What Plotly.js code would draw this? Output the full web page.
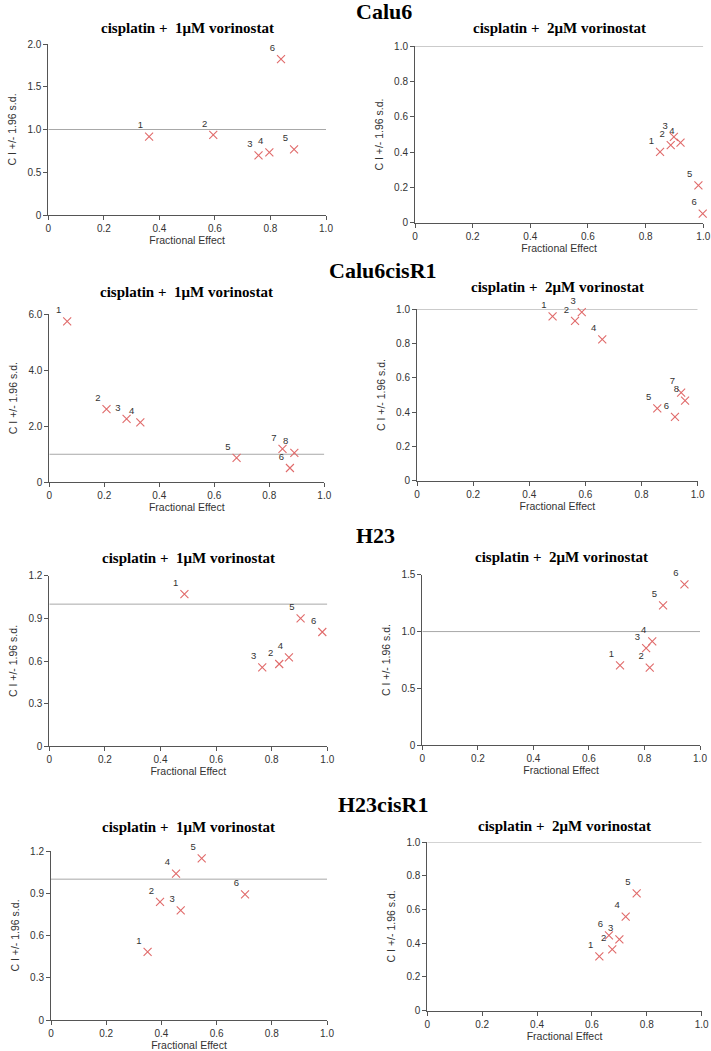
<!DOCTYPE html>
<html>
<head>
<meta charset="utf-8">
<script src="https://cdn.plot.ly/plotly-3.0.1.min.js"></script>
<style>html,body{margin:0;padding:0;background:#fff;}#chart{width:711px;height:1051px;}</style>
</head>
<body>
<div id="chart"></div>
<script>
// ---------------- DATA ----------------
const cellLines = ["Calu6", "Calu6cisR1", "H23", "H23cisR1"];
const subTitles = ["cisplatin +\u00a0 1\u03bcM vorinostat", "cisplatin +\u00a0 2\u03bcM vorinostat"];

const calu6_1uM_fe = [0.363, 0.594, 0.757, 0.796, 0.885, 0.838];
const calu6_1uM_ci = [0.916, 0.936, 0.698, 0.733, 0.768, 1.824];
const calu6_2uM_fe = [0.850, 0.887, 0.898, 0.921, 0.983, 0.998];
const calu6_2uM_ci = [0.401, 0.440, 0.486, 0.454, 0.212, 0.051];

const calu6cisR1_1uM_fe = [0.065, 0.208, 0.281, 0.331, 0.681, 0.875, 0.848, 0.891];
const calu6cisR1_1uM_ci = [5.74, 2.61, 2.26, 2.14, 0.87, 0.51, 1.19, 1.05];
const calu6cisR1_2uM_fe = [0.483, 0.563, 0.587, 0.660, 0.856, 0.919, 0.941, 0.955];
const calu6cisR1_2uM_ci = [0.959, 0.932, 0.984, 0.825, 0.422, 0.372, 0.514, 0.467];

const h23_1uM_fe = [0.486, 0.827, 0.766, 0.862, 0.904, 0.982];
const h23_1uM_ci = [1.071, 0.579, 0.555, 0.626, 0.900, 0.804];
const h23_2uM_fe = [0.712, 0.819, 0.806, 0.828, 0.867, 0.944];
const h23_2uM_ci = [0.703, 0.683, 0.855, 0.914, 1.230, 1.415];

const h23cisR1_1uM_fe = [0.350, 0.395, 0.470, 0.453, 0.546, 0.703];
const h23cisR1_1uM_ci = [0.483, 0.838, 0.779, 1.039, 1.148, 0.892];
const h23cisR1_2uM_fe = [0.627, 0.674, 0.700, 0.723, 0.763, 0.662];
const h23cisR1_2uM_ci = [0.322, 0.364, 0.423, 0.557, 0.696, 0.447];

const xTickVals = [0, 0.2, 0.4, 0.6, 0.8, 1.0];
const xTickText = ["0", "0.2", "0.4", "0.6", "0.8", "1.0"];
const yTicks_calu6_1 = ["0", "0.5", "1.0", "1.5", "2.0"];
const yTicks_cisR1_1 = ["0", "2.0", "4.0", "6.0"];
const yTicks_h23_1 = ["0", "0.3", "0.6", "0.9", "1.2"];
const yTicks_h23_2 = ["0", "0.5", "1.0", "1.5"];
const yTicks_unit = ["0", "0.2", "0.4", "0.6", "0.8", "1.0"];
const refCI = 1.0;

const xTitle = "Fractional Effect";
const yTitle = "C I +/- 1.96 s.d.";

// ---------------- PANELS ----------------
const panels = [
  {fe: calu6_1uM_fe, ci: calu6_1uM_ci, yt: yTicks_calu6_1},
  {fe: calu6_2uM_fe, ci: calu6_2uM_ci, yt: yTicks_unit},
  {fe: calu6cisR1_1uM_fe, ci: calu6cisR1_1uM_ci, yt: yTicks_cisR1_1},
  {fe: calu6cisR1_2uM_fe, ci: calu6cisR1_2uM_ci, yt: yTicks_unit},
  {fe: h23_1uM_fe, ci: h23_1uM_ci, yt: yTicks_h23_1},
  {fe: h23_2uM_fe, ci: h23_2uM_ci, yt: yTicks_h23_2},
  {fe: h23cisR1_1uM_fe, ci: h23cisR1_1uM_ci, yt: yTicks_h23_1},
  {fe: h23cisR1_2uM_fe, ci: h23cisR1_2uM_ci, yt: yTicks_unit}
];

// pixel boxes of plot areas [left, right, top, bottom]
const boxes = [
  [48.3, 326, 44, 215],
  [415, 703.3, 46.3, 222.7],
  [49.3, 324.3, 314, 482.3],
  [417, 697.7, 309.3, 480.7],
  [49.3, 327.3, 575.7, 746.3],
  [422.3, 700, 574.7, 745.3],
  [51, 327, 851, 1020],
  [427.3, 701.7, 842, 1010.7]
];
const subTitleY = [28, 28, 292, 287, 558, 557, 827, 826];
const bigTitlePos = [[384, 12], [383, 270], [375, 535], [383, 805]];

const W = 711, H = 1051;
const px = v => v / W;
const py = v => 1 - v / H;

const tickFont = {family: "Liberation Sans, Arial, sans-serif", size: 10, color: "#333"};
const axTitleFont = {family: "Liberation Sans, Arial, sans-serif", size: 10.5, color: "#333"};
const markerColor = "#e06a6a";

const data = [];
const layout = {
  width: W, height: H,
  margin: {l: 0, r: 0, t: 0, b: 0},
  paper_bgcolor: "#fff", plot_bgcolor: "#fff",
  showlegend: false,
  shapes: [], annotations: []
};

panels.forEach((p, i) => {
  const n = i + 1;
  const xa = n === 1 ? "xaxis" : "xaxis" + n;
  const ya = n === 1 ? "yaxis" : "yaxis" + n;
  const xr = n === 1 ? "x" : "x" + n;
  const yr = n === 1 ? "y" : "y" + n;
  const b = boxes[i];
  const yVals = p.yt.map(Number);
  const yMax = yVals[yVals.length - 1];

  data.push({
    type: "scatter", mode: "markers+text",
    x: p.fe, y: p.ci,
    text: p.fe.map((_, k) => String(k + 1)),
    textposition: "top left",
    textfont: {family: "Liberation Sans, Arial, sans-serif", size: 9.5, color: "#333"},
    marker: {symbol: "x-thin-open", size: 8, color: markerColor, line: {color: markerColor, width: 1.1}},
    cliponaxis: false,
    xaxis: xr, yaxis: yr, hoverinfo: "skip"
  });

  layout[xa] = {
    domain: [px(b[0]), px(b[1])], anchor: yr, range: [0, 1],
    tickvals: xTickVals, ticktext: xTickText,
    showgrid: false, zeroline: false, showline: true, linecolor: "#555", linewidth: 1,
    ticks: "outside", ticklen: 4, tickcolor: "#555", tickfont: tickFont,
    title: {text: xTitle, font: axTitleFont, standoff: 3},
    automargin: false, fixedrange: true
  };
  layout[ya] = {
    domain: [py(b[3]), py(b[2])], anchor: xr, range: [0, yMax],
    tickvals: yVals, ticktext: p.yt,
    showgrid: false, zeroline: false, showline: true, linecolor: "#555", linewidth: 1,
    ticks: "outside", ticklen: 4, tickcolor: "#555", tickfont: tickFont,
    title: {text: yTitle, font: axTitleFont, standoff: 8},
    automargin: false, fixedrange: true
  };

  layout.shapes.push({
    type: "line", xref: xr, yref: yr, x0: 0, x1: 1, y0: refCI, y1: refCI,
    line: {color: "#a8a8a8", width: 1}, layer: "below"
  });

  layout.annotations.push({
    xref: "paper", yref: "paper", x: px((b[0] + b[1]) / 2), y: py(subTitleY[i]),
    xanchor: "center", yanchor: "middle", showarrow: false,
    text: "<b>" + subTitles[i % 2] + "</b>",
    font: {family: "Liberation Serif, Times New Roman, serif", size: 15, color: "#000"}
  });
});

cellLines.forEach((name, j) => {
  layout.annotations.push({
    xref: "paper", yref: "paper", x: px(bigTitlePos[j][0]), y: py(bigTitlePos[j][1]),
    xanchor: "center", yanchor: "middle", showarrow: false,
    text: "<b>" + name + "</b>",
    font: {family: "Liberation Serif, Times New Roman, serif", size: 22, color: "#000"}
  });
});

Plotly.newPlot("chart", data, layout, {staticPlot: true, displayModeBar: false});
</script>
</body>
</html>
